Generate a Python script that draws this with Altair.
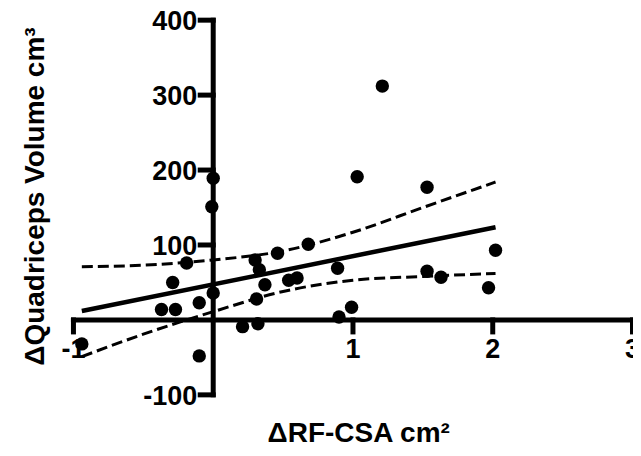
import altair as alt
import pandas as pd

# Scatter data
x_vals = [-0.94, -0.37, -0.27, -0.29, -0.19, -0.10, -0.10, 0.00, -0.01, 0.00,
          0.21, 0.32, 0.31, 0.37, 0.33, 0.30, 0.46, 0.54, 0.60, 0.68,
          0.89, 0.90, 0.99, 1.03, 1.21, 1.53, 1.53, 1.63, 1.97, 2.02]
y_vals = [-32, 14, 14, 50, 76, 23, -48, 36, 151, 189,
          -9, -5, 28, 47, 67, 80, 89, 53, 56, 101,
          69, 4, 17, 191, 312, 177, 65, 57, 43, 93]

# 95% confidence band
band_x = [-0.94, -0.5, 0.0, 0.5, 1.0, 1.5, 2.02]
upper_vals = [71, 73, 80, 92, 117, 150, 184]
lower_vals = [-49, -19, 11, 38, 53, 58, 62]

# Axes (they cross at the origin)
x_domain = [-1, 3]
y_domain = [-100, 400]
x_tick_vals = [-1, 1, 2, 3]
x_tick_labels = ["-1", "1", "2", "3"]
y_tick_vals = [-100, 100, 200, 300, 400]
y_tick_labels = ["-100", "100", "200", "300", "400"]
x_title = "ΔRF-CSA cm²"
y_title = "ΔQuadriceps Volume cm³"

font = "Liberation Sans"
W, H = 559.5, 375
# tick lengths in pixels, converted to data units of each scale
x_tick_px, y_tick_px = 12, 13
x_tick_len = x_tick_px * (y_domain[1] - y_domain[0]) / H
y_tick_len = y_tick_px * (x_domain[1] - x_domain[0]) / W

pts = pd.DataFrame({"x": x_vals, "y": y_vals})
bands = pd.DataFrame({
    "x": band_x + band_x,
    "y": upper_vals + lower_vals,
    "band": ["upper"] * len(band_x) + ["lower"] * len(band_x),
})
xt = pd.DataFrame({"x": x_tick_vals, "y": [0] * len(x_tick_vals), "label": x_tick_labels})
yt = pd.DataFrame({"x": [0] * len(y_tick_vals), "y": y_tick_vals, "label": y_tick_labels})

# axis lines and tick marks drawn together as one rule layer
n_x, n_y = len(x_tick_vals), len(y_tick_vals)
axis_frame = pd.DataFrame({
    "x": [x_domain[0], 0] + x_tick_vals + [0] * n_y,
    "x2": [x_domain[1], 0] + x_tick_vals + [-y_tick_len] * n_y,
    "y": [0, y_domain[0]] + [0] * n_x + y_tick_vals,
    "y2": [0, y_domain[1]] + [-x_tick_len] * n_x + y_tick_vals,
})

xscale = alt.Scale(domain=x_domain, nice=False, zero=False)
yscale = alt.Scale(domain=y_domain, nice=False, zero=False)
X = alt.X("x:Q", scale=xscale, axis=None)
Y = alt.Y("y:Q", scale=yscale, axis=None)

axes = alt.Chart(axis_frame).mark_rule(
    color="black", strokeWidth=5, strokeCap="square"
).encode(x=X, x2="x2:Q", y=Y, y2="y2:Q")

x_labels = alt.Chart(xt).mark_text(
    font=font, fontSize=27, fontWeight="bold", color="black",
    align="center", baseline="top", dy=17
).encode(x=X, y=Y, text="label:N")
y_labels = alt.Chart(yt).mark_text(
    font=font, fontSize=27, fontWeight="bold", color="black",
    align="right", baseline="middle", dx=-16, dy=2
).encode(x=X, y=Y, text="label:N")

x_title_layer = alt.Chart(pd.DataFrame({"t": [x_title]})).mark_text(
    font=font, fontSize=28, fontWeight="bold", color="black",
    align="center", baseline="alphabetic"
).encode(x=alt.value(285.5), y=alt.value(422), text="t:N")
y_title_layer = alt.Chart(pd.DataFrame({"t": [y_title]})).mark_text(
    font=font, fontSize=28, fontWeight="bold", color="black",
    align="center", baseline="alphabetic", angle=270
).encode(x=alt.value(-29), y=alt.value(176.5), text="t:N")

points = alt.Chart(pts).mark_circle(size=180, color="black", opacity=1).encode(x=X, y=Y)

reg = alt.Chart(pts).transform_regression("x", "y").mark_line(
    color="black", strokeWidth=4.5
).encode(x=X, y=Y)

band_lines = alt.Chart(bands).mark_line(
    color="black", strokeWidth=3, strokeDash=[11, 5], interpolate="monotone"
).encode(x=X, y=Y, detail="band:N")

chart = alt.layer(
    x_labels, y_labels, x_title_layer, y_title_layer,
    axes, band_lines, reg, points
).properties(
    width=W, height=H,
    autosize=alt.AutoSizeParams(type="none"),
    padding={"left": 65.5, "top": 12, "right": 0.5, "bottom": 53},
    background="white",
).configure_view(stroke=None)

chart.save("out.html", embed_options={"renderer": "svg", "actions": False})
